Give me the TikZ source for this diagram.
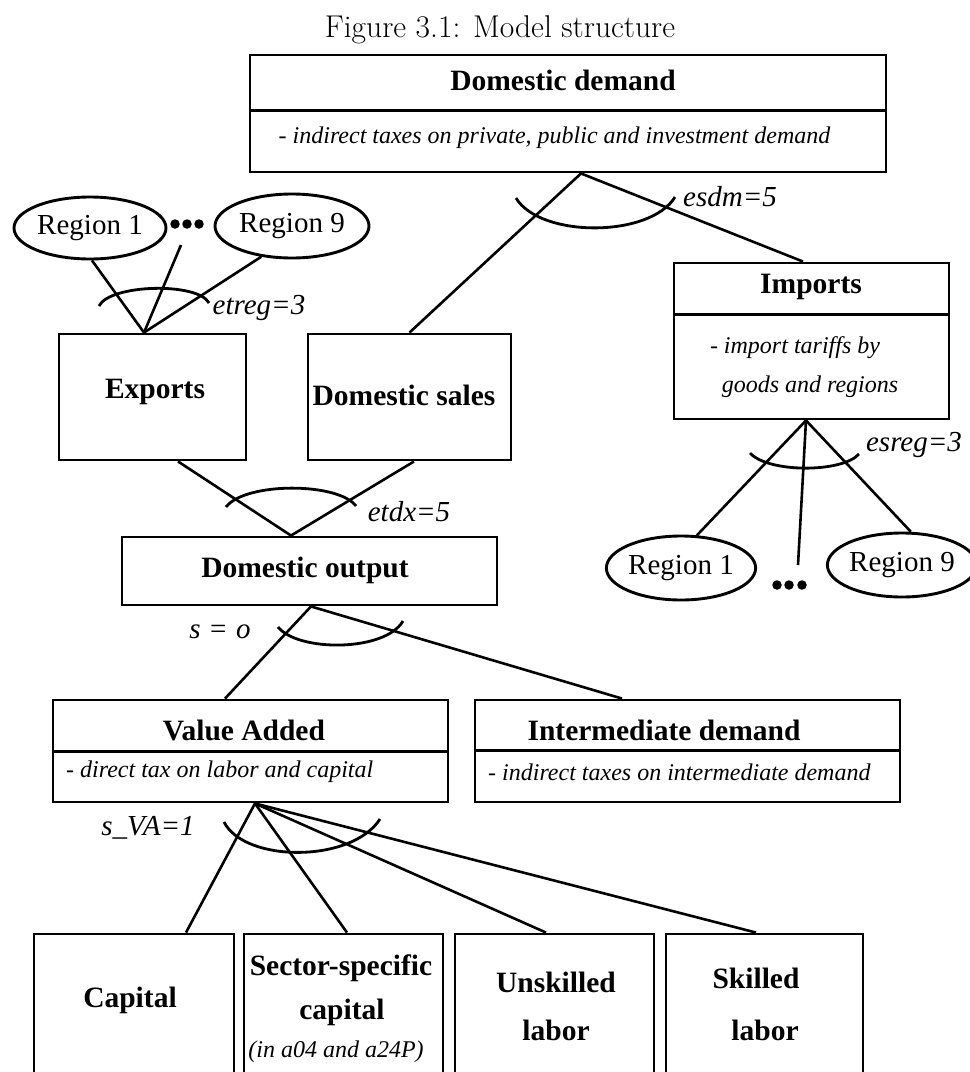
\documentclass[tikz,border=0pt]{standalone}
\usepackage{fontspec}
\newfontfamily\tms{Liberation Serif}
\usetikzlibrary{shapes.geometric,calc}
\begin{document}
\begin{tikzpicture}[x=1pt,y=-1pt,
  box/.style={draw,line width=2.9pt,rectangle,inner sep=0pt},
  reg/.style={draw,line width=2.9pt,ellipse,inner sep=0pt,font=\tms\fontsize{29}{33}\selectfont},
  conn/.style={line width=2.6pt},
  arcline/.style={line width=2.8pt},
  divline/.style={line width=2.9pt},
  bt/.style={font=\tms\fontsize{29.5}{33}\selectfont\bfseries, inner sep=0pt},
  it/.style={font=\tms\fontsize{24}{28}\selectfont\itshape, inner sep=0pt},
  lab/.style={font=\tms\fontsize{29}{33}\selectfont\itshape, inner sep=0pt},
  dotn/.style={fill,circle,inner sep=0pt,minimum size=9.5pt}
]
\useasboundingbox (0,0) rectangle (970,1072);
\clip (0,0) rectangle (970,1072);

% title
\node[font=\fontsize{31.5}{36}\selectfont, inner sep=0pt] (title) at (500,30) {Figure 3.1: Model structure};

% Domestic demand
\node[box,minimum width=636pt,minimum height=117pt] (dd) at (568,113.5) {};
\draw[divline] ([yshift=-57pt]dd.north west) -- ([yshift=-57pt]dd.north east);
\node[bt] (ddt) at (563,80) {Domestic demand};
\node[it] (dds) at (554.5,138) {- indirect taxes on private, public and investment demand};

% Exports / Domestic sales
\node[box,minimum width=187pt,minimum height=126pt] (exp) at (152.5,397) {};
\node[bt] (expt) at (155,392) {Exports};
\node[box,minimum width=203pt,minimum height=126pt] (ds) at (409.5,397) {};
\node[bt] (dst) at (404,395) {Domestic sales};

% Imports
\node[box,minimum width=275pt,minimum height=156pt] (imp) at (811.5,341) {};
\draw[divline] ([yshift=-53pt]imp.north west) -- ([yshift=-53pt]imp.north east);
\node[bt] (impt) at (811,287) {Imports};
\node[it] (imps1) at (795,348) {- import tariffs by};
\node[it] (imps2) at (810,387) {goods and regions};

% Regions (export side)
\node[reg,minimum width=152pt,minimum height=62pt] (r1) at (90,228) {Region 1};
\node[reg,minimum width=154pt,minimum height=64pt] (r9) at (292,226) {Region 9};
\node[dotn] (d1a) at (175,224) {};
\node[dotn] (d1b) at (187,224) {};
\node[dotn] (d1c) at (199,224) {};
\coordinate (rdots) at (181,245);

% Regions (import side)
\node[reg,minimum width=134pt,minimum height=64pt] (r1b) at (681,568) {Region 1};
\node[reg,minimum width=132pt,minimum height=64pt] (r9b) at (902,565) {Region 9};
\node[dotn] (d2a) at (777,585) {};
\node[dotn] (d2b) at (789,585) {};
\node[dotn] (d2c) at (802,585) {};
\coordinate (idots) at (798,565);

% Domestic output
\node[box,minimum width=375pt,minimum height=68pt] (do) at (309.5,571) {};
\node[bt] (dot) at (305,570) {Domestic output};

% Value added / Intermediate
\node[box,minimum width=395pt,minimum height=102pt] (va) at (250.5,751) {};
\draw[divline] ([yshift=-53pt]va.north west) -- ([yshift=-53pt]va.north east);
\node[bt] (vat) at (244,730) {Value Added};
\node[it,anchor=west] (vas) at (66,772) {- direct tax on labor and capital};
\node[box,minimum width=425pt,minimum height=102pt] (id) at (687.5,751) {};
\draw[divline] ([yshift=-52pt]id.north west) -- ([yshift=-52pt]id.north east);
\node[bt] (idt) at (664,730) {Intermediate demand};
\node[it,anchor=west] (ids) at (488,772) {- indirect taxes on intermediate demand};

% factor boxes
\node[box,minimum width=200pt,minimum height=156pt] (cap) at (134,1012) {};
\node[bt] (capt) at (130,1000) {Capital};
\node[box,minimum width=199pt,minimum height=156pt] (ssc) at (343.5,1012) {};
\node[bt] (ssct1) at (341,968) {Sector-specific};
\node[bt] (ssct2) at (342,1012) {capital};
\node[it] (ssct3) at (336,1052) {(in a04 and a24P)};
\node[box,minimum width=199pt,minimum height=156pt] (usk) at (554.5,1012) {};
\node[bt] (uskt1) at (556,982) {Unskilled};
\node[bt] (uskt2) at (556,1030) {labor};
\node[box,minimum width=197pt,minimum height=156pt] (skl) at (764.5,1012) {};
\node[bt] (sklt1) at (756,978) {Skilled};
\node[bt] (sklt2) at (765,1030) {labor};

% connectors
\draw[conn] ([xshift=13pt]dd.south) -- (ds.north);
\draw[conn] ([xshift=13pt]dd.south) -- ([xshift=-8.5pt]imp.north);
\draw[conn] ([xshift=2pt]r1.south) -- ([xshift=-8.5pt]exp.north);
\draw[conn] (rdots) -- ([xshift=-8.5pt]exp.north);
\draw[conn] (r9.225) -- ([xshift=-8.5pt]exp.north);
\draw[conn] ([xshift=25.5pt]exp.south) -- ([xshift=-18.5pt]do.north);
\draw[conn] ([xshift=4.5pt]ds.south) -- ([xshift=-18.5pt]do.north);
\draw[conn] ([xshift=-5.5pt]imp.south) -- (r1b.64);
\draw[conn] ([xshift=-5.5pt]imp.south) -- (idots);
\draw[conn] ([xshift=-5.5pt]imp.south) -- (r9b.75);
\draw[conn] ([xshift=1.5pt]do.south) -- ([xshift=-25.5pt]va.north);
\draw[conn] ([xshift=1.5pt]do.south) -- ([xshift=-65.5pt]id.north);
\draw[conn] ([xshift=4.5pt]va.south) -- ([xshift=52pt]cap.north);
\draw[conn] ([xshift=4.5pt]va.south) -- ([xshift=3.5pt]ssc.north);
\draw[conn] ([xshift=4.5pt]va.south) -- ([xshift=-8.5pt]usk.north);
\draw[conn] ([xshift=4.5pt]va.south) -- ([xshift=-8.5pt]skl.north);

% elasticity arcs
\draw[arcline] (516,198) .. controls (540,238) and (650,238) .. (675,197);
\draw[arcline] (99,306) .. controls (110,284) and (198,282) .. (209,303);
\draw[arcline] (226,507) .. controls (245,482) and (338,482) .. (356,506);
\draw[arcline] (750,453) .. controls (768,473) and (842,473) .. (859,454);
\draw[arcline] (278,627) .. controls (298,652) and (385,652) .. (403,621);
\draw[arcline] (224,822) .. controls (245,863) and (352,863) .. (380,819);

% labels
\node[lab] (lesdm) at (730,197) {esdm=5};
\node[lab] (letreg) at (259,308) {etreg=3};
\node[lab] (lesreg) at (914,445) {esreg=3};
\node[lab] (letdx) at (409,512) {etdx=5};
\node[lab] (ls) at (220,632) {s\,\,{\upshape=}\,\,o};
\node[lab] (lsva) at (148,828) {s\_VA=1};
\end{tikzpicture}
\end{document}
